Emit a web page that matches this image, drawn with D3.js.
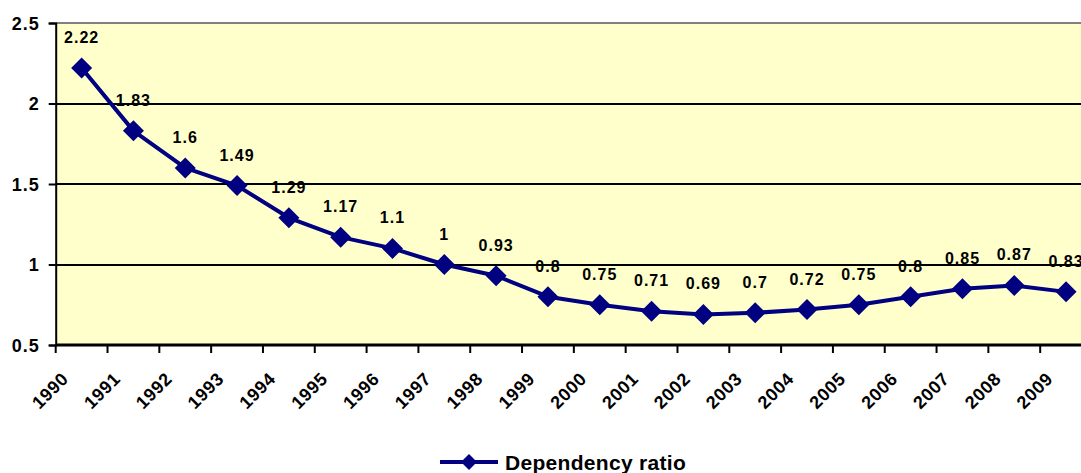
<!DOCTYPE html>
<html lang="en">
<head>
<meta charset="UTF-8">
<title>Dependency ratio</title>
<script src="https://cdnjs.cloudflare.com/ajax/libs/d3/7.8.5/d3.min.js"></script>
<style>
    body { margin: 0; background: #fff; }
    svg text { font-family: "Liberation Sans", Arial, sans-serif; font-weight: bold; fill: #000; }
</style>
</head>
<body>
<svg id="chart" width="1081" height="473"></svg>
<script>
    // data
    var years = ["1990","1991","1992","1993","1994","1995","1996","1997","1998","1999",
                 "2000","2001","2002","2003","2004","2005","2006","2007","2008","2009"];
    var ratio = [2.22, 1.83, 1.6, 1.49, 1.29, 1.17, 1.1, 1, 0.93, 0.8,
                 0.75, 0.71, 0.69, 0.7, 0.72, 0.75, 0.8, 0.85, 0.87, 0.83];
    var yTicks = [0.5, 1, 1.5, 2, 2.5];
    var seriesName = "Dependency ratio";

    var svg = d3.select("#chart");
    // (window.top is read-only, so plot edges get their own names)
    var plotL = 55.7, plotR = 1092, plotT = 23, plotB = 345;

    // the plot runs past the right edge of the window, like the original
    var x = d3.scaleBand().domain(years).range([plotL, plotR]);
    var y = d3.scaleLinear().domain([0.5, 2.5]).range([plotB, plotT]);

    svg.append("rect")
        .attr("x", plotL).attr("y", plotT)
        .attr("width", plotR - plotL).attr("height", plotB - plotT)
        .attr("fill", "#ffffcc");

    // gridlines
    svg.append("g").selectAll("line")
        .data(yTicks.filter(function(d){ return d > 0.5 && d < 2.5; }))
        .join("line")
        .attr("x1", plotL).attr("x2", plotR)
        .attr("y1", function(d){ return Math.round(y(d)); })
        .attr("y2", function(d){ return Math.round(y(d)); })
        .attr("stroke", "#000").attr("stroke-width", 2);

    // top border
    svg.append("line")
        .attr("x1", plotL).attr("x2", plotR)
        .attr("y1", plotT).attr("y2", plotT)
        .attr("stroke", "#808080").attr("stroke-width", 2);

    // y axis
    var yAxis = svg.append("g")
        .attr("transform", "translate(" + plotL + ",0)")
        .call(d3.axisLeft(y).tickValues(yTicks).tickSize(7).tickPadding(9)
              .tickFormat(function(d){ return d; }));
    yAxis.select(".domain").attr("stroke", "#000").attr("stroke-width", 2);
    yAxis.selectAll(".tick line").attr("stroke", "#000").attr("stroke-width", 2);
    yAxis.selectAll(".tick text")
        .style("font-size", "18px").style("letter-spacing", "1px")
        .attr("dy", "0.35em");

    // x axis, ticks between categories
    var xAxis = svg.append("g")
        .attr("transform", "translate(0," + plotB + ")");
    xAxis.append("line")
        .attr("x1", plotL).attr("x2", plotR)
        .attr("stroke", "#000").attr("stroke-width", 3);
    xAxis.selectAll(".tk")
        .data(years)
        .join("line")
        .attr("class", "tk")
        .attr("x1", function(d){ return x(d); })
        .attr("x2", function(d){ return x(d); })
        .attr("y1", 0).attr("y2", 8)
        .attr("stroke", "#000").attr("stroke-width", 2);
    xAxis.selectAll("text")
        .data(years)
        .join("text")
        .attr("text-anchor", "end")
        .attr("transform", function(d){
            return "translate(" + (x(d) + x.bandwidth() / 2 - 12) + ",35) rotate(-45)";
        })
        .style("font-size", "18px").style("letter-spacing", "0.6px")
        .text(function(d){ return d; });

    var pts = years.map(function(d, i){ return { year: d, v: ratio[i] }; });
    var cx = function(d){ return x(d.year) + x.bandwidth() / 2; };

    svg.append("path")
        .datum(pts)
        .attr("fill", "none")
        .attr("stroke", "#000080")
        .attr("stroke-width", 4)
        .attr("stroke-linejoin", "round")
        .attr("d", d3.line().x(cx).y(function(d){ return y(d.v); }));

    var diamond = "M0,-10.5L10.5,0L0,10.5L-10.5,0Z";
    svg.append("g").selectAll("path")
        .data(pts)
        .join("path")
        .attr("d", diamond)
        .attr("fill", "#000080")
        .attr("transform", function(d){ return "translate(" + cx(d) + "," + y(d.v) + ")"; });

    // value labels
    svg.append("g").selectAll("text")
        .data(pts)
        .join("text")
        .attr("x", cx)
        .attr("y", function(d){ return y(d.v) - 25; })
        .attr("text-anchor", "middle")
        .style("font-size", "16px").style("letter-spacing", "1px")
        .text(function(d){ return d.v; });

    // legend
    var lg = svg.append("g").attr("transform", "translate(440,462)");
    lg.append("line").attr("x1", 0).attr("x2", 58)
        .attr("stroke", "#000080").attr("stroke-width", 4);
    lg.append("path").attr("d", "M0,-8L8,0L0,8L-8,0Z")
        .attr("transform", "translate(29,0)").attr("fill", "#000080");
    lg.append("text").attr("x", 65).attr("y", 8)
        .style("font-size", "21px").style("letter-spacing", "0.3px")
        .text(seriesName);
</script>
</body>
</html>
